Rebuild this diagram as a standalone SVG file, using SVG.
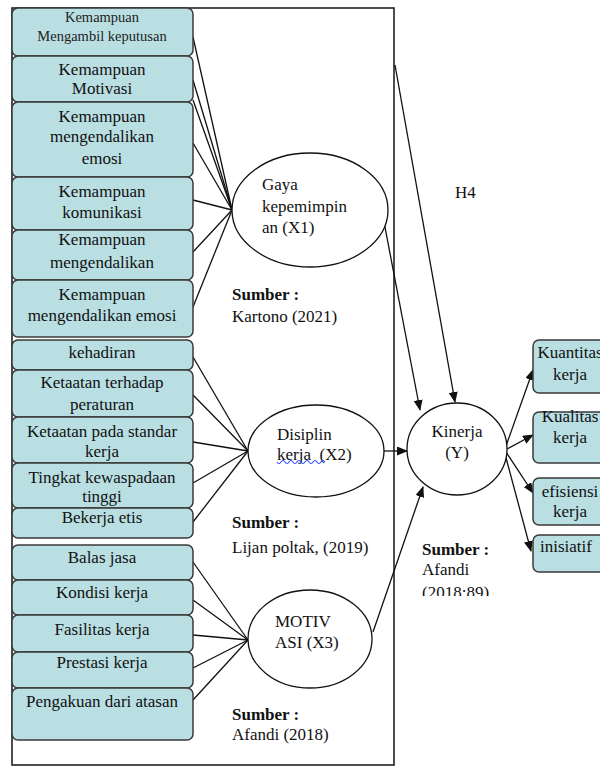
<svg xmlns="http://www.w3.org/2000/svg" width="600" height="768" viewBox="0 0 600 768">
<defs>
<marker id="arr" markerWidth="11" markerHeight="9" refX="10" refY="4.5" orient="auto" markerUnits="userSpaceOnUse">
<path d="M0,0 L11,4.5 L0,9 z" fill="#111"/>
</marker>
<clipPath id="clipS"><rect x="400" y="530" width="120" height="66"/></clipPath>
<style>
.box{fill:#b9dfe3;stroke:#3a3a3a;stroke-width:1.5}
.ell{fill:#fff;stroke:#111;stroke-width:1.3}
.t{font-family:"Liberation Serif","Times New Roman",serif;font-size:17px;fill:#111;text-anchor:middle}
.ts{font-family:"Liberation Serif","Times New Roman",serif;font-size:14.5px;fill:#222;text-anchor:middle}
.tl{font-family:"Liberation Serif","Times New Roman",serif;font-size:17px;fill:#111}
.b{font-weight:bold}
.ln{stroke:#111;stroke-width:1.3;fill:none}
</style>
</defs>
<rect width="600" height="768" fill="#fff"/>
<rect id="frame" x="12" y="8" width="382" height="757" fill="none" stroke="#222" stroke-width="1.6"/>

<g id="connectors" class="ln">
<line x1="193" y1="37" x2="232" y2="210"/>
<line x1="193" y1="80" x2="232" y2="210"/>
<line x1="193" y1="100" x2="232" y2="210"/>
<line x1="193" y1="143" x2="232" y2="210"/>
<line x1="193" y1="200" x2="232" y2="210"/>
<line x1="193" y1="252" x2="232" y2="210"/>
<line x1="193" y1="307" x2="232" y2="210"/>
<line x1="193" y1="357" x2="248" y2="451"/>
<line x1="193" y1="395" x2="248" y2="451"/>
<line x1="193" y1="442" x2="248" y2="451"/>
<line x1="193" y1="483" x2="248" y2="451"/>
<line x1="193" y1="522" x2="248" y2="451"/>
<line x1="193" y1="562" x2="248" y2="640"/>
<line x1="193" y1="600" x2="248" y2="640"/>
<line x1="193" y1="635" x2="248" y2="640"/>
<line x1="193" y1="668" x2="248" y2="640"/>
<line x1="193" y1="700" x2="248" y2="640"/>
<line x1="384" y1="222" x2="420" y2="410" marker-end="url(#arr)"/>
<line x1="395" y1="65" x2="455" y2="402" marker-end="url(#arr)"/>
<line x1="384" y1="451" x2="407" y2="451" marker-end="url(#arr)"/>
<line x1="373" y1="632" x2="423" y2="487" marker-end="url(#arr)"/>
<line x1="506" y1="446" x2="533" y2="370" marker-end="url(#arr)"/>
<line x1="507" y1="449" x2="533" y2="435" marker-end="url(#arr)"/>
<line x1="506" y1="452" x2="533" y2="493" marker-end="url(#arr)"/>
<line x1="505" y1="454" x2="531" y2="551" marker-end="url(#arr)"/>
</g>

<g id="n1"><rect class="box" x="12" y="8" width="181" height="48" rx="6"/><text class="ts" x="102" y="22">Kemampuan</text><text class="ts" x="102" y="41">Mengambil keputusan</text></g>
<g id="n2"><rect class="box" x="12" y="56" width="181" height="46" rx="6"/><text class="t" x="102" y="75">Kemampuan</text><text class="t" x="102" y="94">Motivasi</text></g>
<g id="n3"><rect class="box" x="12" y="102" width="181" height="75" rx="6"/><text class="t" x="102" y="122">Kemampuan</text><text class="t" x="102" y="142">mengendalikan</text><text class="t" x="102" y="164">emosi</text></g>
<g id="n4"><rect class="box" x="12" y="177" width="181" height="53" rx="6"/><text class="t" x="102" y="197">Kemampuan</text><text class="t" x="102" y="218">komunikasi</text></g>
<g id="n5"><rect class="box" x="12" y="230" width="181" height="50" rx="6"/><text class="t" x="102" y="245">Kemampuan</text><text class="t" x="102" y="268">mengendalikan</text></g>
<g id="n6"><rect class="box" x="12" y="280" width="181" height="57" rx="6"/><text class="t" x="102" y="300">Kemampuan</text><text class="t" x="102" y="321">mengendalikan emosi</text></g>
<g id="n7"><rect class="box" x="12" y="340" width="181" height="30" rx="6"/><text class="t" x="102" y="358">kehadiran</text></g>
<g id="n8"><rect class="box" x="12" y="370" width="181" height="47" rx="6"/><text class="t" x="102" y="388">Ketaatan terhadap</text><text class="t" x="102" y="410">peraturan</text></g>
<g id="n9"><rect class="box" x="12" y="417" width="181" height="46" rx="6"/><text class="t" x="102" y="437">Ketaatan pada standar</text><text class="t" x="102" y="457">kerja</text></g>
<g id="n10"><rect class="box" x="12" y="463" width="181" height="45" rx="6"/><text class="t" x="102" y="483">Tingkat kewaspadaan</text><text class="t" x="102" y="502">tinggi</text></g>
<g id="n11"><rect class="box" x="12" y="508" width="181" height="30" rx="6"/><text class="t" x="102" y="523">Bekerja etis</text></g>
<g id="n12"><rect class="box" x="12" y="545" width="181" height="35" rx="6"/><text class="t" x="102" y="563">Balas jasa</text></g>
<g id="n13"><rect class="box" x="12" y="580" width="181" height="35" rx="6"/><text class="t" x="102" y="598">Kondisi kerja</text></g>
<g id="n14"><rect class="box" x="12" y="615" width="181" height="37" rx="6"/><text class="t" x="102" y="635">Fasilitas kerja</text></g>
<g id="n15"><rect class="box" x="12" y="652" width="181" height="36" rx="6"/><text class="t" x="102" y="668">Prestasi kerja</text></g>
<g id="n16"><rect class="box" x="12" y="688" width="181" height="52" rx="6"/><text class="t" x="102" y="707">Pengakuan dari atasan</text></g>

<g id="gaya"><ellipse class="ell" cx="310" cy="210" rx="78" ry="57"/><text class="tl" x="262" y="190">Gaya</text><text class="tl" x="262" y="212">kepemimpin</text><text class="tl" x="262" y="233">an (X1)</text></g>
<g id="disiplin"><ellipse class="ell" cx="316" cy="451" rx="68" ry="46"/><text class="tl" x="277" y="440">Disiplin</text><text class="tl" x="277" y="460" xml:space="preserve">kerja  (X2)</text><path d="M277,462 q2,3 4,0 t4,0 t4,0 t4,0 t4,0 t4,0 t4,0 t4,0 t4,0 t4,0 t4,0 t4,0" fill="none" stroke="#2b4cff" stroke-width="1.1"/></g>
<g id="motivasi"><ellipse class="ell" cx="310" cy="639" rx="62" ry="49"/><text class="tl" x="275" y="627">MOTIV</text><text class="tl" x="275" y="648">ASI (X3)</text></g>
<g id="kinerja"><ellipse class="ell" cx="457" cy="449" rx="50" ry="46"/><text class="t" x="457" y="437">Kinerja</text><text class="t" x="457" y="458">(Y)</text></g>

<g id="y1"><rect class="box" x="533" y="340" width="74" height="53" rx="6"/><text class="t" x="570" y="358">Kuantitas</text><text class="t" x="570" y="380">kerja</text></g>
<g id="y2"><rect class="box" x="533" y="412" width="74" height="51" rx="6"/><text class="t" x="570" y="422">Kualitas</text><text class="t" x="570" y="443">kerja</text></g>
<g id="y3"><rect class="box" x="533" y="478" width="74" height="47" rx="6"/><text class="t" x="570" y="497">efisiensi</text><text class="t" x="570" y="517">kerja</text></g>
<g id="y4"><rect class="box" x="533" y="535" width="74" height="37" rx="6"/><text class="t" x="566" y="552">inisiatif</text></g>

<g id="labels">
<text class="tl b" x="232" y="300">Sumber :</text><text class="tl" x="232" y="322">Kartono (2021)</text>
<text class="tl b" x="232" y="528">Sumber :</text><text class="tl" x="232" y="553">Lijan poltak, (2019)</text>
<text class="tl b" x="232" y="720">Sumber :</text><text class="tl" x="232" y="740">Afandi (2018)</text>
<g clip-path="url(#clipS)"><text class="tl b" x="422" y="555">Sumber :</text><text class="tl" x="422" y="575">Afandi</text><text class="tl" x="422" y="598">(2018:89)</text></g>
<text class="tl" x="455" y="198">H4</text>
</g>
</svg>
